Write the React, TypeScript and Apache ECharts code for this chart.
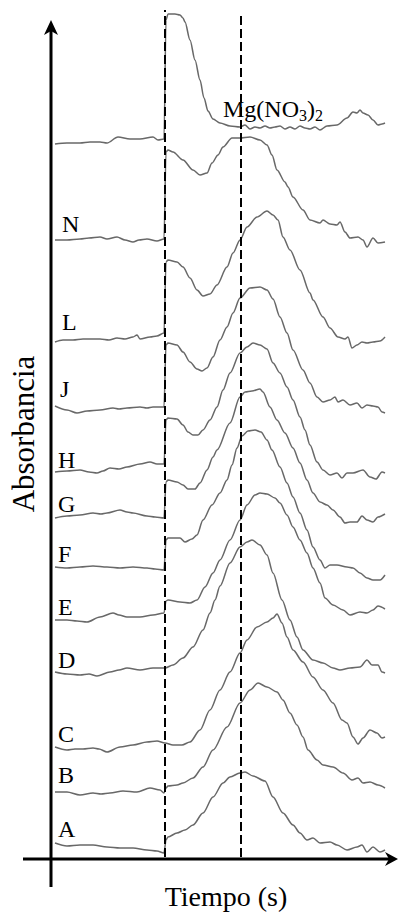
import React, { useEffect, useRef } from 'react';
import * as echarts from 'echarts';

// time (s) , absorbance (a.u.)
const traceMg: [number, number][] = [
  [0, 7.16], [6, 7.17], [12.5, 7.17], [17.5, 7.18], [22.5, 7.18], [26, 7.17], [31.5, 7.23], [37.5, 7.21], [42.5, 7.21], [49, 7.23], [51.5, 7.2], [54.5, 7.21],
  [55.5, 8.4], [56.5, 8.46], [60, 8.46], [62.5, 8.45], [64, 8.42], [65, 8.38], [67.5, 8.2], [70, 8.0], [72.5, 7.8], [74.5, 7.62], [76.5, 7.49], [79, 7.41], [82.5, 7.37],
  [87.5, 7.34], [92.5, 7.33], [95, 7.35], [97.5, 7.31], [100, 7.33], [102.5, 7.32], [105, 7.34], [107.5, 7.32], [110, 7.33], [112.5, 7.34], [115, 7.31], [117.5, 7.33],
  [120, 7.31], [122.5, 7.34], [125, 7.32], [127.5, 7.31], [130, 7.33], [132.5, 7.3], [136, 7.34], [141, 7.35], [146, 7.42], [149, 7.48], [151, 7.47], [152.5, 7.5],
  [154, 7.47], [156.5, 7.45], [159, 7.4], [161.5, 7.35], [163.5, 7.36], [165, 7.37]
];
const traceN: [number, number][] = [
  [0, 6.2], [6, 6.2], [12.5, 6.21], [17, 6.22], [22.5, 6.23], [26, 6.21], [31, 6.23], [35, 6.2], [39, 6.18], [42, 6.2], [46, 6.21], [51, 6.19], [54.5, 6.21],
  [55.5, 7.08], [56.5, 7.1], [59, 7.08], [64, 7.0], [69, 6.9], [72.5, 6.85], [76, 6.87], [78.5, 6.97], [81.5, 7.05], [84, 7.13], [88.5, 7.22], [92.5, 7.22],
  [97.5, 7.23], [102.5, 7.2], [106, 7.15], [108.5, 7.05], [111, 6.9], [115, 6.78], [116.5, 6.73], [119, 6.63], [124, 6.5], [127.5, 6.4], [132.5, 6.37], [134, 6.4],
  [137.5, 6.36], [141, 6.35], [142.5, 6.38], [145, 6.28], [147.5, 6.22], [151.5, 6.23], [154, 6.2], [156, 6.13], [159, 6.22], [161.5, 6.17], [165, 6.18]
];
const traceL: [number, number][] = [
  [0, 5.18], [4, 5.2], [9, 5.2], [14, 5.21], [22.5, 5.21], [27, 5.2], [31, 5.22], [35, 5.21], [39, 5.23], [41, 5.25], [42.5, 5.21], [47.5, 5.23], [51, 5.24], [54.5, 5.27],
  [55.5, 5.98], [56.5, 6.0], [61, 5.98], [64, 5.93], [67.5, 5.82], [71, 5.7], [74, 5.64], [77.5, 5.66], [81, 5.75], [86, 5.93], [89, 6.07], [92.5, 6.2],
  [96, 6.33], [101, 6.43], [106, 6.49], [109, 6.45], [111.5, 6.4], [114, 6.23], [117.5, 6.1], [122.5, 5.9], [127.5, 5.67], [129, 5.6], [134, 5.43], [137.5, 5.32],
  [141.5, 5.23], [145, 5.21], [146.5, 5.23], [148.5, 5.12], [151, 5.15], [153.5, 5.18], [156, 5.17], [159, 5.18], [162.5, 5.19], [165, 5.23]
];
const traceJ: [number, number][] = [
  [0, 4.54], [6, 4.5], [11, 4.47], [16, 4.49], [22.5, 4.5], [29, 4.52], [32, 4.51], [36, 4.52], [42.5, 4.53], [46, 4.52], [49, 4.53], [54.5, 4.53],
  [55.5, 5.15], [56.5, 5.17], [61, 5.15], [64, 5.08], [67.5, 4.98], [71, 4.91], [73.5, 4.89], [76, 4.92], [79, 5.03], [82.5, 5.2], [86, 5.33], [89, 5.47],
  [92.5, 5.62], [97.5, 5.72], [102.5, 5.73], [106, 5.7], [109, 5.61], [112.5, 5.43], [116, 5.27], [119, 5.1], [124, 4.9], [127.5, 4.77], [131, 4.63], [134, 4.58],
  [137.5, 4.6], [140, 4.63], [141.5, 4.58], [144, 4.6], [147.5, 4.55], [151, 4.57], [153.5, 4.52], [156, 4.55], [159, 4.54], [161.5, 4.53], [163.5, 4.48], [165, 4.47]
];
const traceH: [number, number][] = [
  [0, 3.88], [6, 3.89], [12.5, 3.9], [17, 3.88], [21, 3.87], [24, 3.89], [27.5, 3.92], [32, 3.91], [36, 3.93], [42.5, 3.96], [47.5, 3.98], [51, 3.96], [54.5, 3.96],
  [55.5, 4.4], [56.5, 4.42], [61, 4.41], [64, 4.35], [66.5, 4.28], [69, 4.25], [71.5, 4.25], [74, 4.3], [77.5, 4.4], [81, 4.53], [84, 4.7], [87.5, 4.87],
  [92.5, 5.07], [96, 5.13], [99, 5.17], [102.5, 5.15], [106, 5.11], [109, 4.97], [112.5, 4.87], [116, 4.73], [119, 4.6], [122.5, 4.43], [125, 4.3], [127.5, 4.15],
  [131, 3.98], [134, 3.9], [137.5, 3.85], [141, 3.87], [143.5, 3.82], [146, 3.87], [149, 3.87], [154, 3.9], [157.5, 3.83], [160.5, 3.81], [163.5, 3.88], [165, 3.87]
];
const traceG: [number, number][] = [
  [0, 3.42], [6, 3.44], [12.5, 3.45], [19, 3.47], [23, 3.46], [26, 3.47], [32.5, 3.5], [36, 3.48], [39, 3.47], [46, 3.44], [50, 3.43], [54.5, 3.42],
  [55.5, 3.78], [56.5, 3.8], [61, 3.78], [64, 3.75], [66.5, 3.71], [70, 3.71], [72.5, 3.77], [76, 3.9], [79, 4.03], [81, 4.1], [87.5, 4.37], [92.5, 4.63],
  [95, 4.68], [98.5, 4.69], [102.5, 4.71], [104, 4.68], [107.5, 4.53], [111, 4.4], [115, 4.27], [119, 4.12], [122.5, 3.97], [126, 3.8], [129, 3.67], [132.5, 3.58],
  [136, 3.55], [139, 3.5], [142.5, 3.43], [145, 3.37], [147.5, 3.38], [151, 3.38], [153.5, 3.44], [156, 3.4], [159, 3.38], [161.5, 3.43], [165, 3.46]
];
const traceF: [number, number][] = [
  [0, 2.93], [6, 2.92], [12.5, 2.93], [19, 2.94], [26, 2.93], [32.5, 2.92], [39, 2.93], [46, 2.92], [50, 2.91], [54.5, 2.9],
  [55.5, 3.2], [56.5, 3.22], [59, 3.22], [62.5, 3.22], [65, 3.18], [68.5, 3.21], [71, 3.25], [74, 3.4], [78.5, 3.55], [82.5, 3.67], [86, 3.8], [88.5, 3.95],
  [91, 4.12], [93.5, 4.24], [96.5, 4.29], [100, 4.3], [103, 4.28], [106, 4.2], [108.5, 4.1], [112.5, 3.93], [116, 3.77], [119, 3.63], [122.5, 3.47], [126, 3.3],
  [129, 3.13], [132.5, 3.0], [135, 2.92], [137.5, 2.95], [141, 2.95], [146, 2.93], [149, 2.92], [152.5, 2.87], [156, 2.82], [159, 2.8], [162.5, 2.8], [165, 2.85]
];
const traceE: [number, number][] = [
  [0, 2.4], [6, 2.4], [11, 2.39], [16, 2.38], [22.5, 2.43], [29, 2.47], [32, 2.45], [36, 2.43], [42.5, 2.43], [49, 2.45], [54.5, 2.47],
  [55.5, 2.59], [56.5, 2.6], [62.5, 2.58], [67.5, 2.57], [71, 2.6], [75, 2.73], [79, 2.87], [82.5, 3.0], [87.5, 3.2], [92.5, 3.4], [96, 3.55],
  [100, 3.65], [102.5, 3.67], [106, 3.66], [110, 3.62], [112.5, 3.57], [116, 3.45], [119, 3.33], [122.5, 3.2], [126, 3.07], [129, 2.92], [132.5, 2.77], [135, 2.62],
  [139, 2.55], [144, 2.5], [147.5, 2.45], [152.5, 2.48], [156, 2.47], [159, 2.5], [161.5, 2.54], [165, 2.51]
];
const traceD: [number, number][] = [
  [0, 1.88], [6, 1.86], [12.5, 1.85], [17, 1.86], [21, 1.84], [27.5, 1.88], [32, 1.9], [36, 1.92], [42.5, 1.9], [49, 1.92], [55, 1.92],
  [59, 1.95], [64, 2.02], [69, 2.13], [74, 2.3], [77.5, 2.47], [80, 2.6], [82.5, 2.74], [87.5, 2.97], [92.5, 3.13], [96, 3.18], [98.5, 3.2], [102.5, 3.15],
  [106, 3.05], [109, 2.87], [113.5, 2.6], [117.5, 2.4], [121, 2.23], [124, 2.1], [129, 2.0], [134, 1.97], [139, 1.92], [142.5, 1.9], [147.5, 1.92], [152.5, 1.93],
  [156, 2.0], [158.5, 1.95], [161.5, 1.95], [163.5, 1.88], [165, 1.87]
];
const traceC: [number, number][] = [
  [0, 1.13], [6, 1.1], [10, 1.11], [14, 1.11], [19, 1.12], [22, 1.11], [26, 1.08], [32.5, 1.13], [39, 1.15], [46, 1.18], [51, 1.19], [55, 1.17],
  [59, 1.15], [63.5, 1.15], [67.5, 1.18], [72.5, 1.3], [77.5, 1.5], [82.5, 1.7], [87.5, 1.88], [92.5, 2.07], [96, 2.2], [101, 2.33], [106, 2.38], [109, 2.42],
  [111, 2.46], [113.5, 2.37], [116, 2.23], [119, 2.1], [124, 1.98], [129, 1.83], [134, 1.7], [139, 1.57], [143.5, 1.4], [146, 1.37], [149, 1.23], [151.5, 1.16],
  [154, 1.22], [157.5, 1.3], [161, 1.27], [163.5, 1.22], [165, 1.23]
];
const traceB: [number, number][] = [
  [0, 0.68], [6, 0.68], [12.5, 0.65], [19, 0.67], [23, 0.66], [27.5, 0.67], [34, 0.69], [41, 0.68], [47.5, 0.72], [52.5, 0.7], [54.5, 0.67],
  [55.5, 0.72], [56.5, 0.74], [61, 0.75], [64, 0.77], [69, 0.82], [74, 0.93], [79, 1.1], [86, 1.33], [92.5, 1.57], [97.5, 1.7], [101.5, 1.77], [106, 1.73],
  [111, 1.68], [114, 1.6], [117.5, 1.47], [121, 1.35], [124, 1.23], [126.5, 1.1], [131, 1.0], [134, 0.95], [139, 0.93], [144, 0.87], [148.5, 0.8], [151.5, 0.82],
  [154, 0.77], [157.5, 0.78], [161.5, 0.75], [165, 0.72]
];
const traceA: [number, number][] = [
  [0, 0.17], [6, 0.14], [12.5, 0.15], [19, 0.15], [26, 0.13], [32.5, 0.12], [39, 0.12], [46, 0.1], [51, 0.09], [54.5, 0.07],
  [55.5, 0.2], [56.5, 0.23], [61, 0.27], [65, 0.3], [69, 0.35], [74, 0.47], [79, 0.63], [84, 0.77], [87.5, 0.83], [92.5, 0.87], [95, 0.88], [99, 0.84],
  [105, 0.79], [109, 0.63], [114, 0.47], [119, 0.35], [122.5, 0.27], [126, 0.2], [129, 0.22], [132.5, 0.17], [137.5, 0.18], [141, 0.15], [146, 0.1], [151, 0.13],
  [153.5, 0.15], [156, 0.08], [159, 0.13], [162.5, 0.08], [165, 0.1]
];

const traces = [traceMg, traceN, traceL, traceJ, traceH, traceG, traceF, traceE, traceD, traceC, traceB, traceA];
const traceNames = ['Mg(NO3)2', 'N', 'L', 'J', 'H', 'G', 'F', 'E', 'D', 'C', 'B', 'A'];
const letterLabels = ['N', 'L', 'J', 'H', 'G', 'F', 'E', 'D', 'C', 'B', 'A'];
// dashed reference times (s) and their vertical extents (a.u.)
const dashTimes = [55, 93];
const dashBottom = [0.03, 0.03];
const dashTop = [8.5, 8.45];

// layout (pixels)
const letterPos: [number, number][] = [
  [62, 224], [62, 322], [60, 389], [58, 460], [58, 504], [58, 554], [58, 607], [58, 660], [58, 734], [58, 775], [58, 829]
];

const SERIF = "'Liberation Serif', 'Times New Roman', serif";

export default function App() {
  const ref = useRef<HTMLDivElement>(null);
  useEffect(() => {
    document.body.style.margin = '0';
    if (!ref.current) return;
    const chart = echarts.init(ref.current, undefined, { renderer: 'svg' });
    const texts: any[] = letterLabels.map((l, i) => ({
      type: 'text',
      x: letterPos[i][0],
      y: letterPos[i][1],
      z: 10,
      style: {
        text: l, fill: '#000', font: `24px ${SERIF}`,
        textAlign: 'left', align: 'left', textVerticalAlign: 'middle', verticalAlign: 'middle'
      }
    }));
    chart.setOption({
      animation: false,
      backgroundColor: '#fff',
      grid: { left: 55, right: 14, top: 0, bottom: 52 },
      xAxis: { type: 'value', min: 0, max: 165, show: false },
      yAxis: { type: 'value', min: 0, max: 8.6, show: false },
      series: traces.map((d, i) => ({
        type: 'line',
        name: traceNames[i],
        data: d,
        symbol: 'none',
        silent: true,
        clip: false,
        smooth: 0.3,
        smoothMonotone: 'x',
        lineStyle: { color: '#686868', width: 1.5 },
        z: 2,
        markLine: i === 0 ? {
          silent: true,
          symbol: ['none', 'none'],
          label: { show: false },
          lineStyle: { color: '#000', width: 2, type: [9, 4] },
          z: 3,
          data: dashTimes.map((t, k) => [
            { coord: [t, dashBottom[k]] },
            { coord: [t, dashTop[k]] }
          ])
        } : undefined
      })),
      graphic: [
        { type: 'rect', shape: { x: 23, y: 857.5, width: 368, height: 3 }, style: { fill: '#000' }, z: 10 },
        { type: 'polygon', shape: { points: [[398, 859], [385, 852], [389, 859], [385, 866]] }, style: { fill: '#000' }, z: 10 },
        { type: 'rect', shape: { x: 49.5, y: 31, width: 3, height: 856 }, style: { fill: '#000' }, z: 10 },
        { type: 'polygon', shape: { points: [[51, 20], [44, 35], [51, 31], [58, 35]] }, style: { fill: '#000' }, z: 10 },
        {
          type: 'text', x: 23, y: 434, rotation: Math.PI / 2, z: 10,
          style: {
            text: 'Absorbancia', fill: '#000', font: `31px ${SERIF}`,
            textAlign: 'center', align: 'center', textVerticalAlign: 'middle', verticalAlign: 'middle'
          }
        },
        {
          type: 'text', x: 226, y: 896, z: 10,
          style: {
            text: 'Tiempo (s)', fill: '#000', font: `28px ${SERIF}`,
            textAlign: 'center', align: 'center', textVerticalAlign: 'middle', verticalAlign: 'middle'
          }
        },
        {
          type: 'text', x: 223, y: 95, z: 10,
          style: {
            text: '{m|Mg(NO}{s|3}{m|)}{s|2}',
            fill: '#000',
            font: `24px ${SERIF}`,
            textAlign: 'left', align: 'left', textVerticalAlign: 'top', verticalAlign: 'top',
            rich: {
              m: { fontSize: 24, fontFamily: SERIF, lineHeight: 28, fill: '#000' },
              s: { fontSize: 16, fontFamily: SERIF, lineHeight: 14, padding: [13, 0, 0, 0], fill: '#000' }
            }
          }
        },
        ...texts
      ]
    });
    return () => chart.dispose();
  }, []);
  return <div ref={ref} style={{ width: 399, height: 912 }} />;
}
